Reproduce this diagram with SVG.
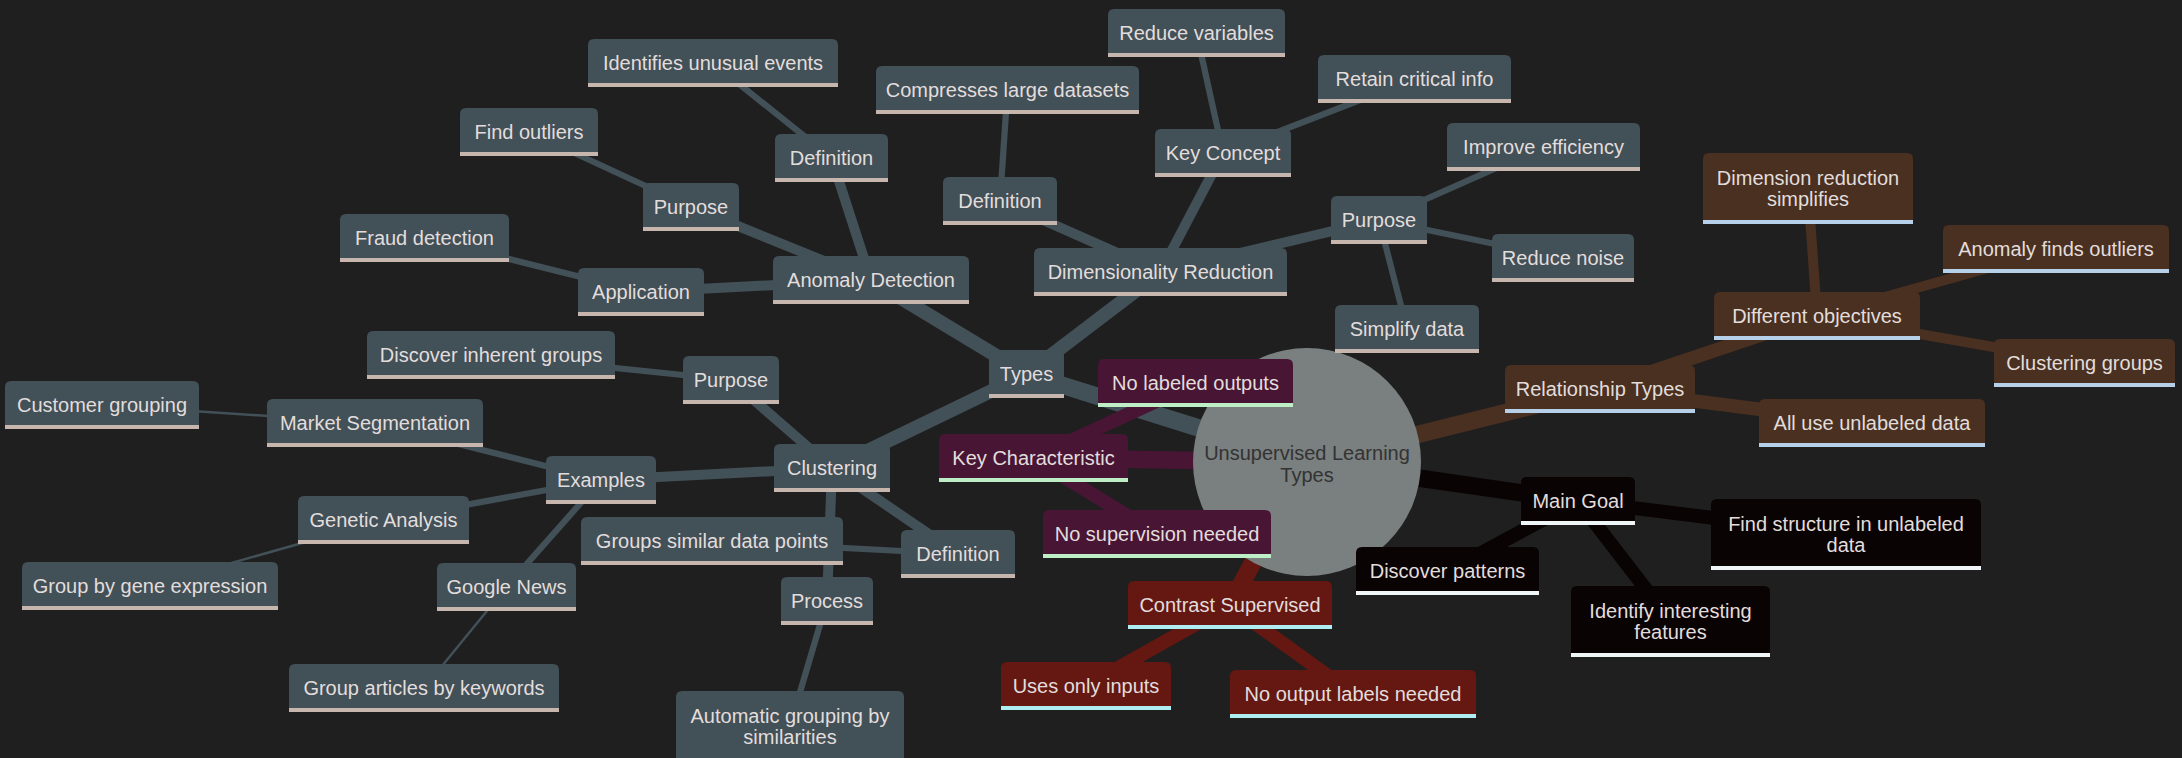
<svg xmlns="http://www.w3.org/2000/svg" width="2182" height="758" viewBox="0 0 2182 758">
<style>
text{font-family:"Liberation Sans",Arial,sans-serif;font-size:20px;text-anchor:middle;fill:#e2dddc}
.g .f{fill:#425057}.g .bar{fill:#c6b6ae}
.p .f{fill:#491534}.p .bar{fill:#bdeec6}
.r .f{fill:#651812}.r .bar{fill:#aeeef2}
.b .f{fill:#4a3020}.b .bar{fill:#b5d0e8}
.k .f{fill:#0a0303}.k .bar{fill:#f0f6f8}
#edges line{fill:none}
.eg{stroke:#425057}.ep{stroke:#491534}.er{stroke:#651812}.eb{stroke:#4a3020}.ek{stroke:#0a0303}
.d0{stroke-width:17.5}.d1{stroke-width:13.75}.d2{stroke-width:10}.d3{stroke-width:6.25}.d4{stroke-width:2.5}
.root circle{fill:#7a7f7f}.root text{fill:#333333}
</style>
<rect width="2182" height="758" fill="#1f1f1f"/>
<g id="edges">
<line class="eg d0" x1="1307" y1="462" x2="1026.5" y2="374"/>
<line class="ep d0" x1="1307" y1="462" x2="1033.5" y2="458"/>
<line class="er d0" x1="1307" y1="462" x2="1230" y2="605"/>
<line class="ek d0" x1="1307" y1="462" x2="1578" y2="501"/>
<line class="eb d0" x1="1307" y1="462" x2="1600" y2="389"/>
<line class="eg d1" x1="1026.5" y1="374" x2="871" y2="280"/>
<line class="eg d1" x1="1026.5" y1="374" x2="1160.5" y2="272"/>
<line class="eg d1" x1="1026.5" y1="374" x2="832" y2="468"/>
<line class="ep d1" x1="1033.5" y1="458" x2="1195.5" y2="383"/>
<line class="ep d1" x1="1033.5" y1="458" x2="1157" y2="534"/>
<line class="er d1" x1="1230" y1="605" x2="1086" y2="686"/>
<line class="er d1" x1="1230" y1="605" x2="1353" y2="694"/>
<line class="ek d1" x1="1578" y1="501" x2="1447.5" y2="571"/>
<line class="ek d1" x1="1578" y1="501" x2="1846" y2="534.5"/>
<line class="ek d1" x1="1578" y1="501" x2="1670.5" y2="621"/>
<line class="eb d1" x1="1600" y1="389" x2="1817" y2="316"/>
<line class="eb d1" x1="1600" y1="389" x2="1872" y2="423.5"/>
<line class="eg d2" x1="871" y1="280" x2="831.5" y2="158"/>
<line class="eg d2" x1="871" y1="280" x2="691" y2="207"/>
<line class="eg d2" x1="871" y1="280" x2="641" y2="292"/>
<line class="eg d2" x1="1160.5" y1="272" x2="1000" y2="201"/>
<line class="eg d2" x1="1160.5" y1="272" x2="1223" y2="153"/>
<line class="eg d2" x1="1160.5" y1="272" x2="1379" y2="220"/>
<line class="eg d2" x1="832" y1="468" x2="731" y2="380"/>
<line class="eg d2" x1="832" y1="468" x2="601" y2="480"/>
<line class="eg d2" x1="832" y1="468" x2="958" y2="554"/>
<line class="eg d2" x1="832" y1="468" x2="827" y2="601"/>
<line class="eb d2" x1="1817" y1="316" x2="1808" y2="188.5"/>
<line class="eb d2" x1="1817" y1="316" x2="2056" y2="249"/>
<line class="eb d2" x1="1817" y1="316" x2="2084.5" y2="363"/>
<line class="eg d3" x1="831.5" y1="158" x2="713" y2="63"/>
<line class="eg d3" x1="691" y1="207" x2="529" y2="132"/>
<line class="eg d3" x1="641" y1="292" x2="424.5" y2="238"/>
<line class="eg d3" x1="1000" y1="201" x2="1007.5" y2="90"/>
<line class="eg d3" x1="1223" y1="153" x2="1196.5" y2="33"/>
<line class="eg d3" x1="1223" y1="153" x2="1414.5" y2="79"/>
<line class="eg d3" x1="1379" y1="220" x2="1543.5" y2="147"/>
<line class="eg d3" x1="1379" y1="220" x2="1563" y2="258"/>
<line class="eg d3" x1="1379" y1="220" x2="1407" y2="329"/>
<line class="eg d3" x1="731" y1="380" x2="491" y2="355"/>
<line class="eg d3" x1="601" y1="480" x2="375" y2="423"/>
<line class="eg d3" x1="601" y1="480" x2="383.5" y2="520"/>
<line class="eg d3" x1="601" y1="480" x2="506.5" y2="587"/>
<line class="eg d3" x1="958" y1="554" x2="712" y2="541"/>
<line class="eg d3" x1="827" y1="601" x2="790" y2="726"/>
<line class="eg d4" x1="375" y1="423" x2="102" y2="405"/>
<line class="eg d4" x1="383.5" y1="520" x2="150" y2="586"/>
<line class="eg d4" x1="506.5" y1="587" x2="424" y2="688"/>
</g>
<g id="root" class="root"><circle cx="1307" cy="462" r="114"/><text x="1307" y="460">Unsupervised Learning</text><text x="1307" y="482">Types</text></g>
<g id="types" class="g" transform="translate(989,350)"><path class="f" d="M0,44V6Q0,0 6,0H69Q75,0 75,6V44Z"/><rect class="bar" y="44" width="75" height="4"/><text x="37.5" y="31">Types</text></g>
<g id="anom" class="g" transform="translate(773,256)"><path class="f" d="M0,44V6Q0,0 6,0H190Q196,0 196,6V44Z"/><rect class="bar" y="44" width="196" height="4"/><text x="98" y="31">Anomaly Detection</text></g>
<g id="anom_def" class="g" transform="translate(775,134)"><path class="f" d="M0,44V6Q0,0 6,0H107Q113,0 113,6V44Z"/><rect class="bar" y="44" width="113" height="4"/><text x="56.5" y="31">Definition</text></g>
<g id="anom_def_1" class="g" transform="translate(588,39)"><path class="f" d="M0,44V6Q0,0 6,0H244Q250,0 250,6V44Z"/><rect class="bar" y="44" width="250" height="4"/><text x="125" y="31">Identifies unusual events</text></g>
<g id="anom_pur" class="g" transform="translate(643,183)"><path class="f" d="M0,44V6Q0,0 6,0H90Q96,0 96,6V44Z"/><rect class="bar" y="44" width="96" height="4"/><text x="48" y="31">Purpose</text></g>
<g id="anom_pur_1" class="g" transform="translate(460,108)"><path class="f" d="M0,44V6Q0,0 6,0H132Q138,0 138,6V44Z"/><rect class="bar" y="44" width="138" height="4"/><text x="69" y="31">Find outliers</text></g>
<g id="anom_app" class="g" transform="translate(578,268)"><path class="f" d="M0,44V6Q0,0 6,0H120Q126,0 126,6V44Z"/><rect class="bar" y="44" width="126" height="4"/><text x="63" y="31">Application</text></g>
<g id="anom_app_1" class="g" transform="translate(340,214)"><path class="f" d="M0,44V6Q0,0 6,0H163Q169,0 169,6V44Z"/><rect class="bar" y="44" width="169" height="4"/><text x="84.5" y="31">Fraud detection</text></g>
<g id="dim" class="g" transform="translate(1034,248)"><path class="f" d="M0,44V6Q0,0 6,0H247Q253,0 253,6V44Z"/><rect class="bar" y="44" width="253" height="4"/><text x="126.5" y="31">Dimensionality Reduction</text></g>
<g id="dim_def" class="g" transform="translate(943,177)"><path class="f" d="M0,44V6Q0,0 6,0H108Q114,0 114,6V44Z"/><rect class="bar" y="44" width="114" height="4"/><text x="57" y="31">Definition</text></g>
<g id="dim_def_1" class="g" transform="translate(876,66)"><path class="f" d="M0,44V6Q0,0 6,0H257Q263,0 263,6V44Z"/><rect class="bar" y="44" width="263" height="4"/><text x="131.5" y="31">Compresses large datasets</text></g>
<g id="dim_key" class="g" transform="translate(1155,129)"><path class="f" d="M0,44V6Q0,0 6,0H130Q136,0 136,6V44Z"/><rect class="bar" y="44" width="136" height="4"/><text x="68" y="31">Key Concept</text></g>
<g id="dim_key_1" class="g" transform="translate(1108,9)"><path class="f" d="M0,44V6Q0,0 6,0H171Q177,0 177,6V44Z"/><rect class="bar" y="44" width="177" height="4"/><text x="88.5" y="31">Reduce variables</text></g>
<g id="dim_key_2" class="g" transform="translate(1318,55)"><path class="f" d="M0,44V6Q0,0 6,0H187Q193,0 193,6V44Z"/><rect class="bar" y="44" width="193" height="4"/><text x="96.5" y="31">Retain critical info</text></g>
<g id="dim_pur" class="g" transform="translate(1331,196)"><path class="f" d="M0,44V6Q0,0 6,0H90Q96,0 96,6V44Z"/><rect class="bar" y="44" width="96" height="4"/><text x="48" y="31">Purpose</text></g>
<g id="dim_pur_1" class="g" transform="translate(1447,123)"><path class="f" d="M0,44V6Q0,0 6,0H187Q193,0 193,6V44Z"/><rect class="bar" y="44" width="193" height="4"/><text x="96.5" y="31">Improve efficiency</text></g>
<g id="dim_pur_2" class="g" transform="translate(1492,234)"><path class="f" d="M0,44V6Q0,0 6,0H136Q142,0 142,6V44Z"/><rect class="bar" y="44" width="142" height="4"/><text x="71" y="31">Reduce noise</text></g>
<g id="dim_pur_3" class="g" transform="translate(1335,305)"><path class="f" d="M0,44V6Q0,0 6,0H138Q144,0 144,6V44Z"/><rect class="bar" y="44" width="144" height="4"/><text x="72" y="31">Simplify data</text></g>
<g id="clu" class="g" transform="translate(774,444)"><path class="f" d="M0,44V6Q0,0 6,0H110Q116,0 116,6V44Z"/><rect class="bar" y="44" width="116" height="4"/><text x="58" y="31">Clustering</text></g>
<g id="clu_pur" class="g" transform="translate(683,356)"><path class="f" d="M0,44V6Q0,0 6,0H90Q96,0 96,6V44Z"/><rect class="bar" y="44" width="96" height="4"/><text x="48" y="31">Purpose</text></g>
<g id="clu_pur_1" class="g" transform="translate(367,331)"><path class="f" d="M0,44V6Q0,0 6,0H242Q248,0 248,6V44Z"/><rect class="bar" y="44" width="248" height="4"/><text x="124" y="31">Discover inherent groups</text></g>
<g id="clu_ex" class="g" transform="translate(546,456)"><path class="f" d="M0,44V6Q0,0 6,0H104Q110,0 110,6V44Z"/><rect class="bar" y="44" width="110" height="4"/><text x="55" y="31">Examples</text></g>
<g id="clu_ex_ms" class="g" transform="translate(267,399)"><path class="f" d="M0,44V6Q0,0 6,0H210Q216,0 216,6V44Z"/><rect class="bar" y="44" width="216" height="4"/><text x="108" y="31">Market Segmentation</text></g>
<g id="clu_ex_ms_1" class="g" transform="translate(5,381)"><path class="f" d="M0,44V6Q0,0 6,0H188Q194,0 194,6V44Z"/><rect class="bar" y="44" width="194" height="4"/><text x="97" y="31">Customer grouping</text></g>
<g id="clu_ex_ga" class="g" transform="translate(298,496)"><path class="f" d="M0,44V6Q0,0 6,0H165Q171,0 171,6V44Z"/><rect class="bar" y="44" width="171" height="4"/><text x="85.5" y="31">Genetic Analysis</text></g>
<g id="clu_ex_ga_1" class="g" transform="translate(22,562)"><path class="f" d="M0,44V6Q0,0 6,0H250Q256,0 256,6V44Z"/><rect class="bar" y="44" width="256" height="4"/><text x="128" y="31">Group by gene expression</text></g>
<g id="clu_ex_gn" class="g" transform="translate(437,563)"><path class="f" d="M0,44V6Q0,0 6,0H133Q139,0 139,6V44Z"/><rect class="bar" y="44" width="139" height="4"/><text x="69.5" y="31">Google News</text></g>
<g id="clu_ex_gn_1" class="g" transform="translate(289,664)"><path class="f" d="M0,44V6Q0,0 6,0H264Q270,0 270,6V44Z"/><rect class="bar" y="44" width="270" height="4"/><text x="135" y="31">Group articles by keywords</text></g>
<g id="clu_def" class="g" transform="translate(901,530)"><path class="f" d="M0,44V6Q0,0 6,0H108Q114,0 114,6V44Z"/><rect class="bar" y="44" width="114" height="4"/><text x="57" y="31">Definition</text></g>
<g id="clu_def_1" class="g" transform="translate(581,517)"><path class="f" d="M0,44V6Q0,0 6,0H256Q262,0 262,6V44Z"/><rect class="bar" y="44" width="262" height="4"/><text x="131" y="31">Groups similar data points</text></g>
<g id="clu_proc" class="g" transform="translate(781,577)"><path class="f" d="M0,44V6Q0,0 6,0H86Q92,0 92,6V44Z"/><rect class="bar" y="44" width="92" height="4"/><text x="46" y="31">Process</text></g>
<g id="clu_proc_1" class="g" transform="translate(676,691)"><path class="f" d="M0,67V6Q0,0 6,0H222Q228,0 228,6V67Z"/><rect class="bar" y="67" width="228" height="4"/><text x="114" y="32">Automatic grouping by</text><text x="114" y="53">similarities</text></g>
<g id="kc" class="p" transform="translate(939,434)"><path class="f" d="M0,44V6Q0,0 6,0H183Q189,0 189,6V44Z"/><rect class="bar" y="44" width="189" height="4"/><text x="94.5" y="31">Key Characteristic</text></g>
<g id="kc_1" class="p" transform="translate(1098,359)"><path class="f" d="M0,44V6Q0,0 6,0H189Q195,0 195,6V44Z"/><rect class="bar" y="44" width="195" height="4"/><text x="97.5" y="31">No labeled outputs</text></g>
<g id="kc_2" class="p" transform="translate(1043,510)"><path class="f" d="M0,44V6Q0,0 6,0H222Q228,0 228,6V44Z"/><rect class="bar" y="44" width="228" height="4"/><text x="114" y="31">No supervision needed</text></g>
<g id="cs" class="r" transform="translate(1128,581)"><path class="f" d="M0,44V6Q0,0 6,0H198Q204,0 204,6V44Z"/><rect class="bar" y="44" width="204" height="4"/><text x="102" y="31">Contrast Supervised</text></g>
<g id="cs_1" class="r" transform="translate(1001,662)"><path class="f" d="M0,44V6Q0,0 6,0H164Q170,0 170,6V44Z"/><rect class="bar" y="44" width="170" height="4"/><text x="85" y="31">Uses only inputs</text></g>
<g id="cs_2" class="r" transform="translate(1230,670)"><path class="f" d="M0,44V6Q0,0 6,0H240Q246,0 246,6V44Z"/><rect class="bar" y="44" width="246" height="4"/><text x="123" y="31">No output labels needed</text></g>
<g id="mg" class="k" transform="translate(1521,477)"><path class="f" d="M0,44V6Q0,0 6,0H108Q114,0 114,6V44Z"/><rect class="bar" y="44" width="114" height="4"/><text x="57" y="31">Main Goal</text></g>
<g id="mg_1" class="k" transform="translate(1356,547)"><path class="f" d="M0,44V6Q0,0 6,0H177Q183,0 183,6V44Z"/><rect class="bar" y="44" width="183" height="4"/><text x="91.5" y="31">Discover patterns</text></g>
<g id="mg_2" class="k" transform="translate(1711,499)"><path class="f" d="M0,67V6Q0,0 6,0H264Q270,0 270,6V67Z"/><rect class="bar" y="67" width="270" height="4"/><text x="135" y="32">Find structure in unlabeled</text><text x="135" y="53">data</text></g>
<g id="mg_3" class="k" transform="translate(1571,586)"><path class="f" d="M0,67V6Q0,0 6,0H193Q199,0 199,6V67Z"/><rect class="bar" y="67" width="199" height="4"/><text x="99.5" y="32">Identify interesting</text><text x="99.5" y="53">features</text></g>
<g id="rt" class="b" transform="translate(1505,365)"><path class="f" d="M0,44V6Q0,0 6,0H184Q190,0 190,6V44Z"/><rect class="bar" y="44" width="190" height="4"/><text x="95" y="31">Relationship Types</text></g>
<g id="rt_do" class="b" transform="translate(1714,292)"><path class="f" d="M0,44V6Q0,0 6,0H200Q206,0 206,6V44Z"/><rect class="bar" y="44" width="206" height="4"/><text x="103" y="31">Different objectives</text></g>
<g id="rt_do_1" class="b" transform="translate(1703,153)"><path class="f" d="M0,67V6Q0,0 6,0H204Q210,0 210,6V67Z"/><rect class="bar" y="67" width="210" height="4"/><text x="105" y="32">Dimension reduction</text><text x="105" y="53">simplifies</text></g>
<g id="rt_do_2" class="b" transform="translate(1943,225)"><path class="f" d="M0,44V6Q0,0 6,0H220Q226,0 226,6V44Z"/><rect class="bar" y="44" width="226" height="4"/><text x="113" y="31">Anomaly finds outliers</text></g>
<g id="rt_do_3" class="b" transform="translate(1994,339)"><path class="f" d="M0,44V6Q0,0 6,0H175Q181,0 181,6V44Z"/><rect class="bar" y="44" width="181" height="4"/><text x="90.5" y="31">Clustering groups</text></g>
<g id="rt_all" class="b" transform="translate(1759,399)"><path class="f" d="M0,44V6Q0,0 6,0H220Q226,0 226,6V44Z"/><rect class="bar" y="44" width="226" height="4"/><text x="113" y="31">All use unlabeled data</text></g>
</svg>
